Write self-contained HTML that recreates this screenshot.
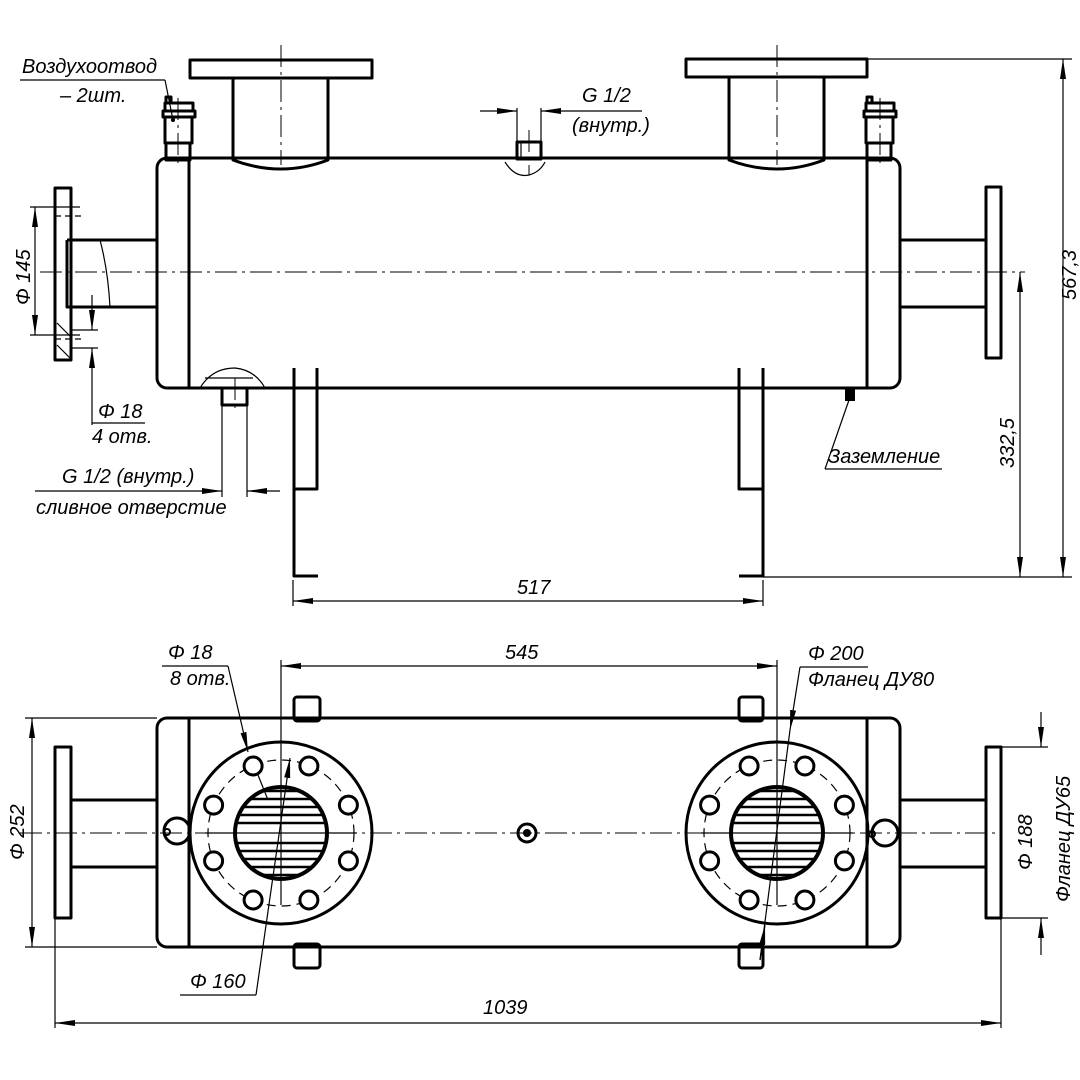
<!DOCTYPE html>
<html><head><meta charset="utf-8"><style>
html,body{margin:0;padding:0;background:#fff;width:1080px;height:1080px;overflow:hidden}
svg{display:block}
text{font-family:"Liberation Sans","DejaVu Sans",sans-serif;font-style:italic;font-size:20px;fill:#000}
.t{fill:none;stroke:#000;stroke-width:3;stroke-linejoin:round}
.n{fill:none;stroke:#000;stroke-width:1.2}
.c{fill:none;stroke:#000;stroke-width:1;stroke-dasharray:22 5 3 5}
.d{fill:none;stroke:#000;stroke-width:1.2;stroke-dasharray:9 6}
</style></head><body>
<svg width="1080" height="1080" viewBox="0 0 1080 1080" xmlns="http://www.w3.org/2000/svg">
<defs>
<marker id="a" viewBox="0 0 20 8" refX="20" refY="4" markerWidth="20" markerHeight="8" markerUnits="userSpaceOnUse" orient="auto-start-reverse"><path d="M0,1 L20,4 L0,7 Z" fill="#000"/></marker>
<clipPath id="cl"><circle cx="281" cy="833" r="46"/></clipPath>
<clipPath id="cr"><circle cx="777" cy="833" r="46"/></clipPath>
</defs>

<!-- ========== TOP VIEW ========== -->
<!-- centerlines -->
<line class="c" x1="40" y1="272" x2="1025" y2="272"/>
<line class="c" x1="281" y1="45" x2="281" y2="165"/>
<line class="c" x1="777" y1="45" x2="777" y2="165"/>
<!-- body -->
<rect class="t" x="157" y="158" width="743" height="230" rx="10"/>
<line class="t" x1="189" y1="158" x2="189" y2="388"/>
<line class="t" x1="867" y1="158" x2="867" y2="388"/>
<!-- top flanges -->
<rect class="t" x="190" y="60" width="182" height="18"/>
<path class="t" d="M233,78 V160 Q281,178 328,160 V78" fill="#fff"/>
<rect class="t" x="686" y="59" width="181" height="18"/>
<path class="t" d="M729,77 V160 Q777,178 824,160 V77" fill="#fff"/>
<!-- air vents -->
<g>
<rect class="t" x="166" y="143" width="24" height="17" fill="#fff"/>
<rect class="t" x="165" y="117" width="27" height="26" fill="#fff"/>
<rect class="t" x="163" y="111" width="32" height="6" fill="#fff"/>
<rect class="t" x="165" y="103" width="28" height="8" fill="#fff"/>
<rect class="t" x="166" y="97" width="5" height="6" fill="#fff"/>
<line class="c" x1="178" y1="98" x2="178" y2="165"/>
</g>
<g>
<rect class="t" x="867" y="143" width="24" height="17" fill="#fff"/>
<rect class="t" x="866" y="117" width="27" height="26" fill="#fff"/>
<rect class="t" x="864" y="111" width="32" height="6" fill="#fff"/>
<rect class="t" x="866" y="103" width="28" height="8" fill="#fff"/>
<rect class="t" x="867" y="97" width="5" height="6" fill="#fff"/>
<line class="c" x1="880" y1="98" x2="880" y2="165"/>
</g>
<!-- left nozzle -->
<rect class="t" x="55" y="188" width="16" height="172"/>
<line class="t" x1="71" y1="240" x2="157" y2="240"/>
<line class="t" x1="71" y1="307" x2="157" y2="307"/>
<path class="t" d="M67,240 H110 M67,240 V307 H110"/>
<path class="n" d="M100,240 Q108,270 110,307"/>
<line class="n" x1="57" y1="323" x2="71" y2="337"/>
<line class="n" x1="57" y1="345" x2="71" y2="359"/>
<line class="n" x1="55" y1="216" x2="82" y2="216" stroke-dasharray="6 4"/>
<line class="n" x1="55" y1="339" x2="82" y2="339" stroke-dasharray="6 4"/>
<!-- right nozzle -->
<rect class="t" x="986" y="187" width="15" height="171"/>
<line class="t" x1="900" y1="240" x2="986" y2="240"/>
<line class="t" x1="900" y1="307" x2="986" y2="307"/>
<!-- top fitting -->
<rect class="t" x="517" y="142" width="24" height="17"/>
<line class="n" x1="521" y1="142" x2="521" y2="159"/>
<path class="n" d="M505,162 Q515,178 529,175 Q540,172 545,162"/>
<line class="c" x1="529" y1="130" x2="529" y2="175"/>
<!-- drain -->
<path class="n" d="M200,388 Q212,368 235,368 Q255,370 265,388"/>
<line class="n" x1="205" y1="378" x2="253" y2="378"/>
<rect class="t" x="222" y="388" width="25" height="17"/>
<line class="c" x1="235" y1="378" x2="235" y2="412"/>
<!-- grounding -->
<rect x="845" y="389" width="10" height="12" fill="#000"/>
<!-- supports -->
<path class="t" d="M294,368 V576 H318 M294,489 H317 V368"/>
<path class="t" d="M763,368 V576 H739 M763,489 H739 V368"/>

<!-- top dims -->
<line class="n" x1="293" y1="580" x2="293" y2="606"/>
<line class="n" x1="763" y1="580" x2="763" y2="606"/>
<line class="n" x1="293" y1="601" x2="763" y2="601" marker-start="url(#a)" marker-end="url(#a)"/>
<text x="517" y="594">517</text>
<line class="n" x1="867" y1="59" x2="1072" y2="59"/>
<line class="n" x1="763" y1="577" x2="1072" y2="577"/>
<line class="n" x1="1063" y1="59" x2="1063" y2="577" marker-start="url(#a)" marker-end="url(#a)"/>
<text transform="translate(1076,300) rotate(-90)">567,3</text>
<line class="n" x1="1020" y1="272" x2="1020" y2="577" marker-start="url(#a)" marker-end="url(#a)"/>
<text transform="translate(1014,468) rotate(-90)">332,5</text>
<!-- phi 145 -->
<line class="n" x1="30" y1="207" x2="80" y2="207"/>
<line class="n" x1="30" y1="335" x2="80" y2="335"/>
<line class="n" x1="35" y1="207" x2="35" y2="335" marker-start="url(#a)" marker-end="url(#a)"/>
<text transform="translate(30,305) rotate(-90)">Φ 145</text>
<!-- phi 18 4 отв -->
<line class="n" x1="71" y1="330" x2="98" y2="330"/>
<line class="n" x1="71" y1="348" x2="98" y2="348"/>
<line class="n" x1="92" y1="295" x2="92" y2="330" marker-end="url(#a)"/>
<line class="n" x1="92" y1="425" x2="92" y2="348" marker-end="url(#a)"/>
<line class="n" x1="92" y1="423" x2="145" y2="423"/>
<text x="98" y="418">Φ 18</text>
<text x="92" y="443">4 отв.</text>
<!-- drain label -->
<line class="n" x1="222" y1="405" x2="222" y2="497"/>
<line class="n" x1="247" y1="405" x2="247" y2="497"/>
<line class="n" x1="35" y1="491" x2="222" y2="491" marker-end="url(#a)"/>
<line class="n" x1="280" y1="491" x2="247" y2="491" marker-end="url(#a)"/>
<text x="62" y="483">G 1/2 (внутр.)</text>
<text x="36" y="514">сливное отверстие</text>
<!-- Воздухоотвод -->
<line class="n" x1="20" y1="80" x2="165" y2="80"/>
<polyline class="n" points="165,80 173,120"/>
<circle cx="173" cy="120" r="2" fill="#000"/>
<text x="22" y="73">Воздухоотвод</text>
<text x="60" y="102">– 2шт.</text>
<!-- G 1/2 top -->
<line class="n" x1="517" y1="108" x2="517" y2="142"/>
<line class="n" x1="541" y1="108" x2="541" y2="142"/>
<line class="n" x1="480" y1="111" x2="517" y2="111" marker-end="url(#a)"/>
<line class="n" x1="642" y1="111" x2="541" y2="111" marker-end="url(#a)"/>
<text x="582" y="102">G 1/2</text>
<text x="572" y="132">(внутр.)</text>
<!-- Заземление -->
<line class="n" x1="825" y1="469" x2="942" y2="469"/>
<line class="n" x1="825" y1="469" x2="849" y2="400"/>
<text x="828" y="463">Заземление</text>

<!-- ========== BOTTOM VIEW ========== -->
<line class="c" x1="20" y1="833" x2="1000" y2="833"/>
<!-- tabs -->
<rect class="t" x="294" y="697" width="26" height="24" rx="3"/>
<rect class="t" x="739" y="697" width="24" height="24" rx="3"/>
<rect class="t" x="294" y="944" width="26" height="24" rx="3"/>
<rect class="t" x="739" y="944" width="24" height="24" rx="3"/>
<rect class="t" x="157" y="718" width="743" height="229" rx="10" fill="#fff"/>
<line class="t" x1="189" y1="718" x2="189" y2="947"/>
<line class="t" x1="867" y1="718" x2="867" y2="947"/>
<rect class="t" x="55" y="747" width="16" height="171"/>
<line class="t" x1="71" y1="800" x2="157" y2="800"/>
<line class="t" x1="71" y1="867" x2="157" y2="867"/>
<rect class="t" x="986" y="747" width="15" height="171"/>
<line class="t" x1="900" y1="800" x2="986" y2="800"/>
<line class="t" x1="900" y1="867" x2="986" y2="867"/>
<line class="c" x1="20" y1="833" x2="1000" y2="833"/>
<!-- small side circles -->
<circle class="t" cx="177" cy="831" r="13" fill="#fff"/>
<circle cx="167" cy="832" r="3" fill="none" stroke="#000" stroke-width="2"/>
<circle class="t" cx="885" cy="833" r="13" fill="#fff"/>
<circle cx="872" cy="834" r="3" fill="none" stroke="#000" stroke-width="2"/>
<!-- center boss -->
<circle class="t" cx="527" cy="833" r="9"/>
<circle cx="527" cy="833" r="4" fill="#000"/>

<!-- left flange -->
<g>
<circle class="t" cx="281" cy="833" r="91" fill="#fff"/>
<circle class="d" cx="281" cy="833" r="73"/>
<line class="n" x1="281" y1="700" x2="281" y2="905"/>
<line class="n" x1="205" y1="833" x2="357" y2="833"/>
<g clip-path="url(#cl)" stroke="#000" stroke-width="2.5">
<line x1="230" y1="791" x2="330" y2="791"/><line x1="230" y1="799" x2="330" y2="799"/><line x1="230" y1="807" x2="330" y2="807"/><line x1="230" y1="815" x2="330" y2="815"/><line x1="230" y1="823" x2="330" y2="823"/><line x1="230" y1="843" x2="330" y2="843"/><line x1="230" y1="851" x2="330" y2="851"/><line x1="230" y1="859" x2="330" y2="859"/><line x1="230" y1="867" x2="330" y2="867"/><line x1="230" y1="875" x2="330" y2="875"/>
</g>
<circle cx="281" cy="833" r="46" fill="none" stroke="#000" stroke-width="4"/>
<g fill="#fff" stroke="#000" stroke-width="3">
<circle cx="308.9" cy="766" r="9"/><circle cx="253.1" cy="766" r="9"/><circle cx="348.4" cy="805.1" r="9"/><circle cx="213.6" cy="805.1" r="9"/><circle cx="348.4" cy="860.9" r="9"/><circle cx="213.6" cy="860.9" r="9"/><circle cx="308.9" cy="900" r="9"/><circle cx="253.1" cy="900" r="9"/>
</g>
</g>
<!-- right flange -->
<g>
<circle class="t" cx="777" cy="833" r="91" fill="#fff"/>
<circle class="d" cx="777" cy="833" r="73"/>
<line class="n" x1="777" y1="660" x2="777" y2="905"/>
<line class="n" x1="701" y1="833" x2="853" y2="833"/>
<g clip-path="url(#cr)" stroke="#000" stroke-width="2.5">
<line x1="726" y1="791" x2="826" y2="791"/><line x1="726" y1="799" x2="826" y2="799"/><line x1="726" y1="807" x2="826" y2="807"/><line x1="726" y1="815" x2="826" y2="815"/><line x1="726" y1="823" x2="826" y2="823"/><line x1="726" y1="843" x2="826" y2="843"/><line x1="726" y1="851" x2="826" y2="851"/><line x1="726" y1="859" x2="826" y2="859"/><line x1="726" y1="867" x2="826" y2="867"/><line x1="726" y1="875" x2="826" y2="875"/>
</g>
<circle cx="777" cy="833" r="46" fill="none" stroke="#000" stroke-width="4"/>
<g fill="#fff" stroke="#000" stroke-width="3">
<circle cx="804.9" cy="766" r="9"/><circle cx="749.1" cy="766" r="9"/><circle cx="844.4" cy="805.1" r="9"/><circle cx="709.6" cy="805.1" r="9"/><circle cx="844.4" cy="860.9" r="9"/><circle cx="709.6" cy="860.9" r="9"/><circle cx="804.9" cy="900" r="9"/><circle cx="749.1" cy="900" r="9"/>
</g>
</g>

<!-- bottom dims -->
<line class="n" x1="281" y1="660" x2="281" y2="700"/>
<line class="n" x1="281" y1="666" x2="777" y2="666" marker-start="url(#a)" marker-end="url(#a)"/>
<text x="505" y="659">545</text>
<!-- phi 252 -->
<line class="n" x1="25" y1="718" x2="157" y2="718"/>
<line class="n" x1="25" y1="947" x2="157" y2="947"/>
<line class="n" x1="32" y1="718" x2="32" y2="947" marker-start="url(#a)" marker-end="url(#a)"/>
<text transform="translate(24,860) rotate(-90)">Φ 252</text>
<!-- 1039 -->
<line class="n" x1="55" y1="918" x2="55" y2="1028"/>
<line class="n" x1="1001" y1="918" x2="1001" y2="1028"/>
<line class="n" x1="55" y1="1023" x2="1001" y2="1023" marker-start="url(#a)" marker-end="url(#a)"/>
<text x="483" y="1014">1039</text>
<!-- phi 188 -->
<line class="n" x1="1001" y1="747" x2="1048" y2="747"/>
<line class="n" x1="1001" y1="918" x2="1048" y2="918"/>
<line class="n" x1="1041" y1="712" x2="1041" y2="747" marker-end="url(#a)"/>
<line class="n" x1="1041" y1="955" x2="1041" y2="918" marker-end="url(#a)"/>
<text transform="translate(1032,870) rotate(-90)">Φ 188</text>
<text transform="translate(1070,902) rotate(-90)">Фланец ДУ65</text>
<!-- phi 18 8 отв -->
<line class="n" x1="162" y1="666" x2="228" y2="666"/>
<line class="n" x1="228" y1="666" x2="248" y="748" y2="752" marker-end="url(#a)"/>
<line class="n" x1="258" y1="775" x2="268" y2="800" stroke-width="3"/>
<text x="168" y="659">Φ 18</text>
<text x="170" y="685">8 отв.</text>
<!-- phi 160 -->
<line class="n" x1="180" y1="995" x2="256" y2="995"/>
<line class="n" x1="256" y1="995" x2="290" y2="758" marker-end="url(#a)"/>
<text x="190" y="988">Φ 160</text>
<!-- phi 200 -->
<line class="n" x1="800" y1="667" x2="868" y2="667"/>
<line class="n" x1="800" y1="667" x2="790" y2="730" marker-end="url(#a)"/>
<line class="n" x1="790" y1="730" x2="760" y2="960"/>
<line class="n" x1="760" y1="960" x2="765" y2="925" marker-end="url(#a)"/>
<text x="808" y="660">Φ 200</text>
<text x="808" y="686">Фланец ДУ80</text>
</svg>
</body></html>
